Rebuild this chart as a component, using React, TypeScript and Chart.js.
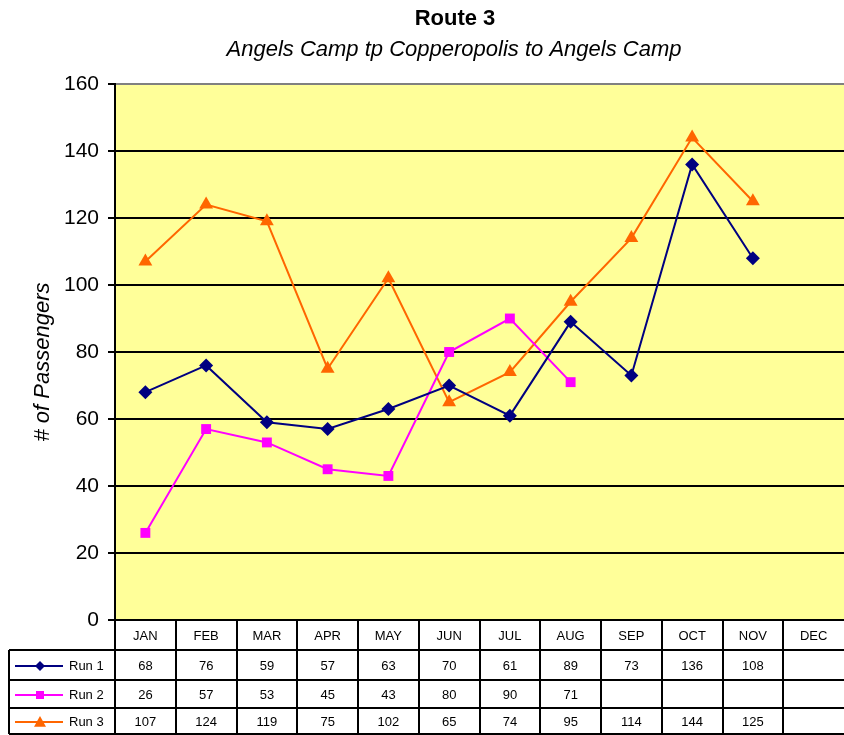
import React, { useEffect, useRef } from 'react';
import { Chart, registerables } from 'chart.js';

Chart.register(...registerables);

const MONTHS = ['JAN', 'FEB', 'MAR', 'APR', 'MAY', 'JUN', 'JUL', 'AUG', 'SEP', 'OCT', 'NOV', 'DEC'];
const RUN1 = [68, 76, 59, 57, 63, 70, 61, 89, 73, 136, 108, null];
const RUN2 = [26, 57, 53, 45, 43, 80, 90, 71, null, null, null, null];
const RUN3 = [107, 124, 119, 75, 102, 65, 74, 95, 114, 144, 125, null];
const SERIES_NAMES = ['Run 1', 'Run 2', 'Run 3'];
const SERIES_COLORS = ['#000080', '#FF00FF', '#FF6600'];
const Y_MIN = 0;
const Y_MAX = 160;
const Y_STEP = 20;
const TITLE = 'Route 3';
const SUBTITLE = 'Angels Camp tp Copperopolis to Angels Camp';
const Y_TITLE = '# of Passengers';

const FONT = '"Liberation Sans", Arial, Helvetica, sans-serif';

function drawMarker(ctx: CanvasRenderingContext2D, kind: number, x: number, y: number, r: number, color: string) {
  ctx.save();
  ctx.fillStyle = color;
  ctx.beginPath();
  if (kind === 0) {
    ctx.moveTo(x, y - r);
    ctx.lineTo(x + r, y);
    ctx.lineTo(x, y + r);
    ctx.lineTo(x - r, y);
    ctx.closePath();
  } else if (kind === 1) {
    ctx.rect(x - r * 0.8, y - r * 0.8, r * 1.6, r * 1.6);
  } else {
    ctx.moveTo(x, y - r);
    ctx.lineTo(x + r, y + r * 0.8);
    ctx.lineTo(x - r, y + r * 0.8);
    ctx.closePath();
  }
  ctx.fill();
  ctx.restore();
}

const decorPlugin = {
  id: 'decor',
  beforeDraw(chart: any) {
    const { ctx, chartArea: a } = chart;
    ctx.save();
    ctx.fillStyle = '#FFFF99';
    ctx.fillRect(a.left, a.top, a.right - a.left, a.bottom - a.top);
    ctx.restore();
  },
  afterDraw(chart: any) {
    const { ctx, chartArea: a } = chart;
    ctx.save();
    ctx.fillStyle = '#000';
    ctx.textAlign = 'center';
    ctx.textBaseline = 'middle';
    ctx.font = `bold 22px ${FONT}`;
    ctx.fillText(TITLE, 455, 19);
    ctx.font = `italic 22px ${FONT}`;
    ctx.fillText(SUBTITLE, 454, 50);

    // y axis title
    ctx.save();
    ctx.translate(43, 362);
    ctx.rotate(-Math.PI / 2);
    ctx.font = `italic 22px ${FONT}`;
    ctx.fillText(Y_TITLE, 0, 0);
    ctx.restore();

    // data table
    const n = MONTHS.length;
    const colW = (a.right - a.left) / n;
    const rowsY = [a.bottom, a.bottom + 30, a.bottom + 60, a.bottom + 88, a.bottom + 114];
    const tableLeft = 9;
    ctx.strokeStyle = '#000';
    ctx.lineWidth = 2;
    ctx.beginPath();
    for (let i = 0; i < n; i++) {
      const x = Math.round(a.left + i * colW);
      ctx.moveTo(x, rowsY[0]);
      ctx.lineTo(x, rowsY[4]);
    }
    ctx.moveTo(tableLeft, rowsY[1]);
    ctx.lineTo(tableLeft, rowsY[4]);
    for (let r = 1; r < rowsY.length; r++) {
      ctx.moveTo(tableLeft, rowsY[r]);
      ctx.lineTo(a.right, rowsY[r]);
    }
    ctx.stroke();

    ctx.font = `13px ${FONT}`;
    ctx.fillStyle = '#000';
    const xs = chart.scales.x;
    MONTHS.forEach((m, i) => {
      const cx = xs.getPixelForValue(i);
      ctx.fillText(m, cx, (rowsY[0] + rowsY[1]) / 2 + 1);
    });
    const series = [RUN1, RUN2, RUN3];
    series.forEach((vals, s) => {
      const cy = (rowsY[s + 1] + rowsY[s + 2]) / 2 + 1;
      vals.forEach((v, i) => {
        if (v === null || v === undefined) return;
        ctx.fillText(String(v), xs.getPixelForValue(i), cy);
      });
      ctx.save();
      ctx.strokeStyle = SERIES_COLORS[s];
      ctx.lineWidth = 2;
      ctx.beginPath();
      ctx.moveTo(15, cy);
      ctx.lineTo(63, cy);
      ctx.stroke();
      ctx.restore();
      drawMarker(ctx, s, 40, cy, s === 2 ? 6 : 5, SERIES_COLORS[s]);
      ctx.textAlign = 'left';
      ctx.fillText(SERIES_NAMES[s], 69, cy);
      ctx.textAlign = 'center';
    });
    ctx.restore();
  },
};

export default function App() {
  const canvasRef = useRef<HTMLCanvasElement | null>(null);

  useEffect(() => {
    const canvas = canvasRef.current;
    if (!canvas) return;
    const chart = new Chart(canvas, {
      type: 'line',
      data: {
        labels: MONTHS,
        datasets: [
          {
            label: SERIES_NAMES[0],
            data: RUN1,
            borderColor: SERIES_COLORS[0],
            backgroundColor: SERIES_COLORS[0],
            borderWidth: 2,
            pointStyle: 'rectRot',
            pointRadius: 7,
            pointBorderWidth: 0,
            tension: 0,
          },
          {
            label: SERIES_NAMES[1],
            data: RUN2,
            borderColor: SERIES_COLORS[1],
            backgroundColor: SERIES_COLORS[1],
            borderWidth: 2,
            pointStyle: 'rect',
            pointRadius: 7,
            pointBorderWidth: 0,
            tension: 0,
          },
          {
            label: SERIES_NAMES[2],
            data: RUN3,
            borderColor: SERIES_COLORS[2],
            backgroundColor: SERIES_COLORS[2],
            borderWidth: 2,
            pointStyle: 'triangle',
            pointRadius: 8,
            pointBorderWidth: 0,
            tension: 0,
          },
        ],
      },
      options: {
        animation: false,
        responsive: false,
        devicePixelRatio: 1,
        layout: { autoPadding: false, padding: { top: 84, bottom: 115, left: 0, right: 0 } },
        plugins: {
          legend: { display: false },
          tooltip: { enabled: false },
          title: { display: false },
        },
        scales: {
          x: {
            type: 'category',
            display: false,
            offset: true,
          },
          y: {
            min: Y_MIN,
            max: Y_MAX,
            afterFit: (s: any) => {
              s.width = 115;
            },
            ticks: {
              stepSize: Y_STEP,
              color: '#000',
              padding: 9,
              font: { family: FONT, size: 21 },
            },
            grid: {
              color: (c: any) => (c.tick && c.tick.value === Y_MAX ? '#808080' : '#000'),
              tickColor: '#000',
              lineWidth: 2,
              tickLength: 7,
            },
            border: { display: true, color: '#000', width: 2 },
          },
        },
      },
      plugins: [decorPlugin],
    });
    return () => chart.destroy();
  }, []);

  return (
    <div style={{ position: 'absolute', left: 0, top: 0, width: 844, height: 735, background: '#fff' }}>
      <canvas ref={canvasRef} width={844} height={735} style={{ display: 'block' }} />
    </div>
  );
}
